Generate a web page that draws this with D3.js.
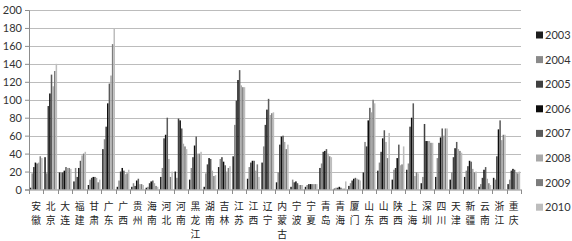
<!DOCTYPE html>
<html lang="zh">
    <head>
        <meta charset="UTF-8">
        <style>
            html, body{
                margin: 0;
                padding: 0;
                background: #fff;
            }
            #chart{
                display: block;
            }
            .axisText{
                font-family: 'Lato', 'Liberation Sans', sans-serif;
                font-size: 11px;
                fill: #333;
            }
            .catText{
                font-family: 'Noto Sans CJK SC', sans-serif;
                font-size: 9.8px;
                fill: #222;
            }
        </style>
    </head>
    <body>
        <svg id="chart" width="572" height="241"></svg>

        <script src="https://d3js.org/d3.v7.min.js"></script>
        <script>
            ///////////////////////////////////////////
            //// DATA                              ////
            ///////////////////////////////////////////
            const categories = ['安徽','北京','大连','福建','甘肃','广东','广西','贵州','海南','河北','河南','黑龙江',
                                '湖南','吉林','江苏','江西','辽宁','内蒙古','宁波','宁夏','青岛','青海','厦门','山东',
                                '山西','陕西','上海','深圳','四川','天津','新疆','云南','浙江','重庆']
            const years = ['2003','2004','2005','2006','2007','2008','2009','2010']
            const yTicks = [0, 20, 40, 60, 80, 100, 120, 140, 160, 180, 200]

            // one row per category, values for 2003..2010
            const values = [
                [2, 18, 25, 30, 29, 30, 37, 35],      // 安徽
                [36, 18, 93, 107, 128, 115, 132, 140],// 北京
                [19, 19, 19, 21, 25, 24, 24, 23],     // 大连
                [9, 24, 14, 24, 32, 38, 40, 42],      // 福建
                [5, 11, 13, 14, 14, 13, 8, 11],       // 甘肃
                [45, 56, 70, 96, 118, 127, 162, 179], // 广东
                [3, 10, 20, 24, 21, 17, 18, 22],      // 广西
                [3, 7, 4, 10, 12, 6, 6, 5],           // 贵州
                [2, 3, 7, 9, 10, 7, 4, 3],            // 海南
                [14, 24, 57, 61, 80, 34, 14, 20],     // 河北
                [20, 13, 79, 77, 68, 51, 48, 45],     // 河南
                [11, 24, 36, 49, 59, 40, 40, 42],     // 黑龙江
                [3, 18, 28, 35, 34, 21, 15, 16],      // 湖南
                [25, 34, 36, 31, 27, 20, 24, 26],     // 吉林
                [37, 72, 99, 122, 133, 116, 114, 114],// 江苏
                [12, 25, 30, 32, 32, 21, 28, 14],     // 江西
                [30, 48, 72, 89, 101, 83, 85, 86],    // 辽宁
                [8, 19, 50, 59, 60, 53, 45, 50],      // 内蒙古
                [3, 11, 8, 9, 7, 5, 5, 5],            // 宁波
                [3, 5, 6, 6, 6, 6, 6, 6],             // 宁夏
                [24, 29, 42, 43, 45, 40, 37, 36],     // 青岛
                [1, 2, 2, 3, 2, 1, 1, 9],             // 青海
                [4, 7, 10, 12, 13, 12, 11, 10],       // 厦门
                [19, 53, 48, 77, 91, 86, 100, 96],    // 山东
                [21, 30, 42, 57, 66, 53, 35, 63],     // 山西
                [11, 22, 24, 35, 50, 27, 28, 48],     // 陕西
                [22, 29, 70, 80, 96, 15, 19, 18],     // 上海
                [7, 14, 73, 54, 54, 54, 52, 52],      // 深圳
                [14, 35, 52, 58, 68, 60, 68, 68],     // 四川
                [11, 19, 36, 46, 53, 45, 43, 41],     // 天津
                [14, 21, 26, 32, 31, 23, 19, 20],     // 新疆
                [3, 6, 13, 22, 25, 12, 7, 5],         // 云南
                [13, 11, 37, 67, 77, 55, 61, 61],     // 浙江
                [6, 11, 21, 23, 22, 19, 18, 20]       // 重庆
            ]

            ///////////////////////////////////////////
            //// SETTINGS                          ////
            ///////////////////////////////////////////
            const vis = {
                elements: {},
                settings: {
                    width:   572,
                    height:  241,
                    margin:  {left: 29, right: 51, top: 10, bottom: 51.5},
                    charStep: 14.2,
                    palette: d3.scaleOrdinal()
                                .domain(years)
                                .range(['#1e1e1e', '#8a8a8a', '#404040', '#0c0c0c', '#5a5a5a', '#a8a8a8', '#7c7c7c', '#bdbdbd'])
                }
            }

            function renderVis(){
                const s = vis.settings
                const innerW = s.width - s.margin.left - s.margin.right
                const innerH = s.height - s.margin.top - s.margin.bottom

                // 0. Scales
                const x0 = d3.scaleBand().domain(categories).range([0, innerW]).paddingInner(0.1).paddingOuter(0.05)
                const x1 = d3.scaleBand().domain(years).range([0, x0.bandwidth()]).padding(0.06)
                const y = d3.scaleLinear().domain([0, 200]).range([innerH, 0])

                // 1. Groups
                vis.elements.svg = d3.select('#chart')
                vis.elements.plot = vis.elements.svg.append('g')
                    .attr('transform', `translate(${s.margin.left},${s.margin.top})`)

                // 2. Gridlines
                vis.elements.plot.append('g')
                    .selectAll('line')
                    .data(yTicks.filter(d => d > 0))
                    .join('line')
                        .attr('x1', 0).attr('x2', innerW)
                        .attr('y1', d => Math.round(y(d)) + 0.5)
                        .attr('y2', d => Math.round(y(d)) + 0.5)
                        .attr('stroke', '#bcbcbc')
                        .attr('stroke-width', 1.2)

                // 3. Bars
                const groups = vis.elements.plot.append('g')
                    .selectAll('g')
                    .data(categories)
                    .join('g')
                        .attr('transform', d => `translate(${x0(d)},0)`)

                groups.selectAll('rect')
                    .data((d, i) => years.map((yr, j) => ({year: yr, value: values[i][j]})))
                    .join('rect')
                        .attr('x', d => x1(d.year))
                        .attr('width', x1.bandwidth())
                        .attr('y', d => y(d.value))
                        .attr('height', d => innerH - y(d.value))
                        .attr('fill', d => s.palette(d.year))

                // 4. Y axis
                const yAxis = vis.elements.plot.append('g')
                    .call(d3.axisLeft(y).tickValues(yTicks).tickSize(4).tickPadding(3))
                yAxis.select('.domain').attr('stroke', '#8c8c8c')
                yAxis.selectAll('.tick line').attr('stroke', '#8c8c8c')
                yAxis.selectAll('.tick text').attr('class', 'axisText').attr('font-size', null).attr('font-family', null)

                // 5. X axis: line, ticks between categories, stacked labels
                const xAxis = vis.elements.plot.append('g').attr('transform', `translate(0,${innerH})`)
                xAxis.append('line')
                    .attr('x1', 0).attr('x2', innerW)
                    .attr('y1', 0.5).attr('y2', 0.5)
                    .attr('stroke', '#8c8c8c')
                const step = x0.step()
                xAxis.selectAll('.sep')
                    .data(d3.range(categories.length + 1))
                    .join('line')
                        .attr('class', 'sep')
                        .attr('x1', i => Math.round(i * step) + 0.5)
                        .attr('x2', i => Math.round(i * step) + 0.5)
                        .attr('y1', 0).attr('y2', 4.5)
                        .attr('stroke', '#8c8c8c')

                // each character is its own text, stacked downward
                const chars = categories.flatMap(cat => Array.from(cat).map((c, i) => ({c, i, cat})))
                xAxis.selectAll('.catText')
                    .data(chars)
                    .join('text')
                        .attr('class', 'catText')
                        .attr('text-anchor', 'middle')
                        .attr('x', d => x0(d.cat) + x0.bandwidth() / 2)
                        .attr('y', d => 20.2 + d.i * s.charStep)
                        .text(d => d.c)

                // 6. Legend
                const legend = vis.elements.svg.append('g')
                    .attr('transform', 'translate(536,35)')
                const item = legend.selectAll('g')
                    .data(years)
                    .join('g')
                        .attr('transform', (d, i) => `translate(0,${i * 24.6})`)
                item.append('rect')
                    .attr('x', 0).attr('y', -3.5)
                    .attr('width', 7).attr('height', 7)
                    .attr('fill', d => s.palette(d))
                item.append('text')
                    .attr('class', 'axisText')
                    .attr('x', 9).attr('y', 4)
                    .text(d => d)
            }

            renderVis()
        </script>
    </body>
</html>
